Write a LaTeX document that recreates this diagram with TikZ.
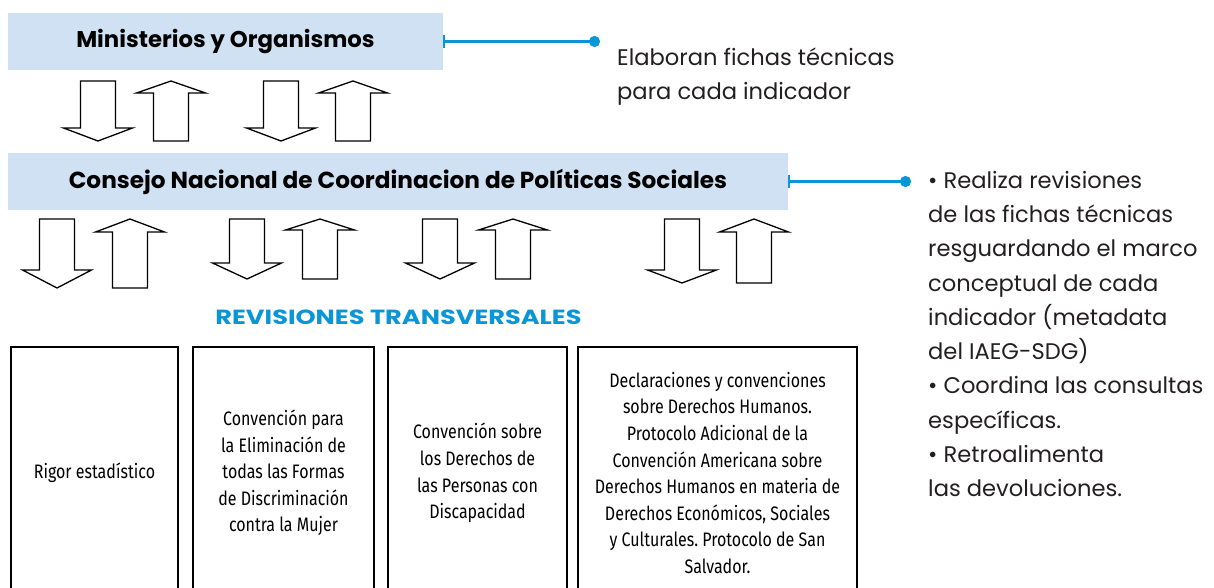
\documentclass[tikz,border=0pt]{standalone}
\usepackage{fontspec}
\setmainfont{Poppins}
\newfontfamily\narrowfont[FakeStretch=0.82]{Fira Sans}
\newfontfamily\titlefont[FakeStretch=1.25]{Poppins}
\usetikzlibrary{arrows.meta}
\frenchspacing

\newlength{\du}
\setlength{\du}{1pt}

% block arrows: centre x, top, head base, tip
\newcommand{\downblock}[4]{\draw[blockline] ({#1-17.5},#2) -- ({#1+17.5},#2) -- ({#1+17.5},#3) -- ({#1+34.5},#3) -- (#1,#4) -- ({#1-34.5},#3) -- ({#1-17.5},#3) -- cycle;}
% centre x, tip, head base, bottom
\newcommand{\upblock}[4]{\draw[blockline] (#1,#2) -- ({#1+34.5},#3) -- ({#1+17.5},#3) -- ({#1+17.5},#4) -- ({#1-17.5},#4) -- ({#1-17.5},#3) -- ({#1-34.5},#3) -- cycle;}

\begin{document}
\begin{tikzpicture}[x=1\du,y=1\du,
  blockline/.style={draw=black,fill=white,line width=1.3\du,line join=miter},
  bandbox/.style={rectangle,fill=bandfill,inner sep=0pt},
  topicbox/.style={rectangle,draw=black,line width=1.3\du,inner sep=0pt,align=center,
    font=\narrowfont\fontsize{19.5}{26.6}\selectfont},
  sidetext/.style={align=left,inner sep=0pt,text=sidegray},
  connector/.style={draw=linkblue,line width=2.4pt,{Bar[width=13pt,line width=2pt]}-{Circle[length=11pt,width=11pt]}}]
\pgftransformyscale{-1.000000}
\definecolor{bandfill}{rgb}{0.812000, 0.882000, 0.953000}
\definecolor{linkblue}{rgb}{0.039000, 0.588000, 0.839000}
\definecolor{sidegray}{rgb}{0.137000, 0.122000, 0.125000}
\useasboundingbox (0,0) rectangle (1214,588);
\clip (0,0) rectangle (1214,588);
% bands
\node[bandbox,minimum width=435\du,minimum height=57\du,font=\bfseries\fontsize{22.8}{26}\selectfont] (mini) at (225.5,41.5) {Ministerios y Organismos};
\node[bandbox,minimum width=780\du,minimum height=57\du,font=\bfseries\fontsize{23.2}{26}\selectfont] (consejo) at (398,181.5) {Consejo Nacional de Coordinacion de Políticas Sociales};
% side notes
\coordinate (dotmini) at (600,41.5);
\coordinate (dotconsejo) at (911,181.5);
\draw[connector] (mini.east) -- (dotmini);
\draw[connector] (consejo.east) -- (dotconsejo);
\node[sidetext,anchor=base west,font=\fontsize{22.6}{34}\selectfont] (elaboran) at (617,99.3) {Elaboran fichas técnicas\\para cada indicador};
\node[sidetext,anchor=base west,font=\fontsize{22.6}{34.25}\selectfont] (realiza) at (928,496.7) {• Realiza revisiones\\de las fichas técnicas\\resguardando el marco\\conceptual de cada\\indicador (metadata\\del IAEG-SDG)\\• Coordina las consultas\\específicas.\\• Retroalimenta\\las devoluciones.};
% arrows between the bands
\downblock{98}{81}{128}{141}
\upblock{171}{81}{93}{141}
\downblock{281}{81}{128}{141}
\upblock{353}{81}{93}{141}
% arrows below the council
\downblock{57}{219}{270}{288}
\upblock{130}{219}{232}{288}
\downblock{247}{219}{263}{279}
\upblock{320}{219}{230}{279}
\downblock{440}{219}{263}{279}
\upblock{513}{219}{230}{279}
\downblock{682}{219}{270}{283}
\upblock{754}{219}{232}{283}
% title
\node[anchor=base,inner sep=0pt,text=linkblue,font=\titlefont\bfseries\fontsize{20.5}{24}\selectfont] (revisiones) at (398.5,324.3) {REVISIONES TRANSVERSALES};
% topics
\node[topicbox,minimum width=167\du,minimum height=252\du] (rigor) at (94.5,473) {Rigor estadístico};
\node[topicbox,minimum width=181\du,minimum height=252\du] (mujer) at (283.5,473) {Convención para\\la Eliminación de\\todas las Formas\\de Discriminación\\contra la Mujer};
\node[topicbox,minimum width=179\du,minimum height=252\du] (discapacidad) at (477.5,473) {Convención sobre\\los Derechos de\\las Personas con\\Discapacidad};
\node[topicbox,minimum width=279\du,minimum height=252\du] (ddhh) at (717.5,473) {Declaraciones y convenciones\\sobre Derechos Humanos.\\Protocolo Adicional de la\\Convención Americana sobre\\Derechos Humanos en materia de\\Derechos Económicos, Sociales\\y Culturales. Protocolo de San\\Salvador.};
\end{tikzpicture}
\end{document}
